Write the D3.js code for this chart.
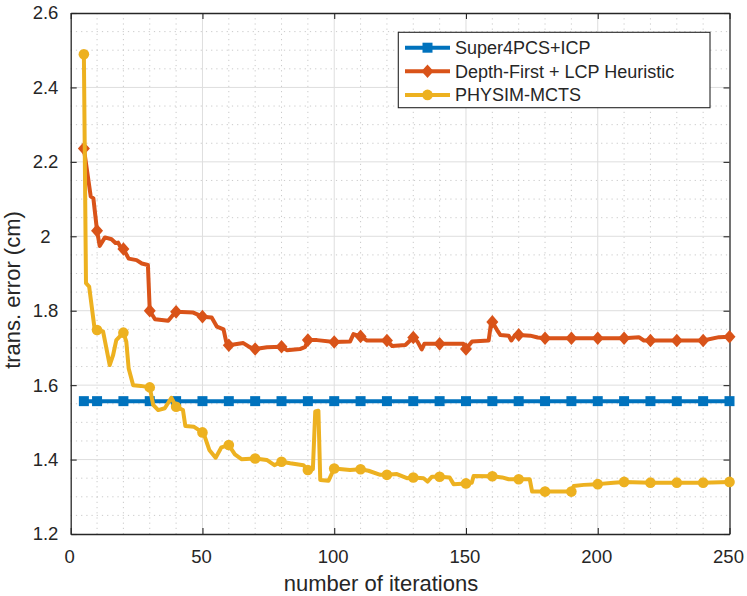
<!DOCTYPE html>
<html>
<head>
<meta charset="utf-8">
<script src="https://cdn.jsdelivr.net/npm/d3@7"></script>
<style>
    body { margin: 0; background: #fff; }
    text { font-family: "Liberation Sans", Arial, Helvetica, sans-serif; fill: #262626; }
</style>
</head>
<body>
<script>
// axis ticks
var xTicks = [0, 50, 100, 150, 200, 250]
var yTicks = [1.2, 1.4, 1.6, 1.8, 2.0, 2.2, 2.4, 2.6]
var yTickLabels = ["1.2", "1.4", "1.6", "1.8", "2", "2.2", "2.4", "2.6"]

var seriesNames = ["Super4PCS+ICP", "Depth-First + LCP Heuristic", "PHYSIM-MCTS"]
var seriesColors = ["#0072BD", "#D95319", "#EDB120"]

// iterations where a marker is drawn
var markerIters = [5, 10, 20, 30, 40, 50, 60, 70, 80, 90, 100, 110, 120, 130, 140, 150, 160, 170, 180, 190, 200, 210, 220, 230, 240, 250]

// Super4PCS+ICP
var superX = [5, 10, 20, 30, 40, 50, 60, 70, 80, 90, 100, 110, 120, 130, 140, 150, 160, 170, 180, 190, 200, 210, 220, 230, 240, 250]
var superY = [1.557, 1.557, 1.557, 1.557, 1.557, 1.557, 1.557, 1.557, 1.557, 1.557, 1.557, 1.557, 1.557, 1.557, 1.557, 1.557, 1.557, 1.557, 1.557, 1.557, 1.557, 1.557, 1.557, 1.557, 1.557, 1.557]

// Depth-First + LCP Heuristic
var depthX = [5, 7.6, 8.6, 10, 11, 13, 15.5, 17, 18, 19, 20, 22, 25, 27, 29.3, 30, 32, 37, 38.5, 40, 46.5, 50, 53.5, 55.5, 58, 59, 60, 65.5, 68, 70, 74.5, 80, 82, 87, 89, 90, 93.5, 100, 106, 107.3, 110, 112.4, 120, 122, 127, 130, 131.6, 133.2, 134.2, 140, 149, 150, 152.3, 158.6, 159.5, 160, 161.8, 163, 166.2, 167.2, 168.7, 170, 174.4, 177.2, 180, 190, 200, 210, 215.6, 217.5, 220, 230, 240, 246, 250]
var depthY = [2.236, 2.107, 2.102, 2.015, 1.974, 1.997, 1.992, 1.982, 1.983, 1.970, 1.966, 1.940, 1.936, 1.927, 1.923, 1.800, 1.777, 1.773, 1.786, 1.797, 1.795, 1.784, 1.782, 1.757, 1.750, 1.717, 1.707, 1.713, 1.702, 1.697, 1.702, 1.703, 1.694, 1.697, 1.703, 1.721, 1.721, 1.716, 1.717, 1.737, 1.731, 1.720, 1.720, 1.705, 1.708, 1.728, 1.717, 1.696, 1.711, 1.711, 1.711, 1.697, 1.717, 1.720, 1.766, 1.770, 1.748, 1.735, 1.733, 1.720, 1.735, 1.735, 1.733, 1.728, 1.726, 1.726, 1.726, 1.726, 1.729, 1.720, 1.720, 1.720, 1.720, 1.729, 1.730]

// PHYSIM-MCTS
var physX = [5, 5.8, 7, 9, 10, 12.3, 14.8, 16.1, 17.3, 20, 21.1, 22, 23.7, 26.6, 30, 31.3, 33.2, 35.7, 38.2, 40, 42.6, 43.5, 46.8, 50, 50.9, 52.6, 55, 57.2, 60, 62.3, 64.8, 70, 74.4, 77.3, 80, 83.3, 88.3, 90, 91.9, 92.8, 94, 94.7, 97.8, 100, 106, 110, 113, 117.5, 120, 123.8, 127.6, 130, 133.9, 135.4, 137.1, 140, 143.8, 145.3, 150, 152.2, 152.9, 160, 163.7, 166.2, 170, 174.2, 175.1, 180, 190, 190.9, 194.7, 200, 206, 210, 220, 230, 240, 250]
var physY = [2.489, 1.874, 1.865, 1.755, 1.748, 1.744, 1.654, 1.681, 1.721, 1.741, 1.717, 1.645, 1.600, 1.598, 1.594, 1.547, 1.533, 1.538, 1.566, 1.542, 1.533, 1.490, 1.488, 1.473, 1.461, 1.426, 1.405, 1.433, 1.439, 1.414, 1.401, 1.403, 1.399, 1.385, 1.394, 1.390, 1.385, 1.372, 1.374, 1.529, 1.531, 1.345, 1.343, 1.376, 1.372, 1.374, 1.370, 1.359, 1.359, 1.361, 1.350, 1.352, 1.350, 1.341, 1.354, 1.354, 1.352, 1.334, 1.336, 1.338, 1.356, 1.355, 1.352, 1.347, 1.347, 1.347, 1.314, 1.314, 1.314, 1.329, 1.332, 1.334, 1.338, 1.340, 1.338, 1.338, 1.338, 1.340]

var width = 747
var height = 596

// plot box in pixels (window.top is reserved, so use own names)
var plotLeft = 70.7, plotRight = 729.5, plotTop = 13, plotBottom = 534
var axisColor = "#262626"

var xScale = d3.scaleLinear().domain([0, 250]).range([plotLeft, plotRight])
var yScale = d3.scaleLinear().domain([1.2, 2.6]).range([plotBottom, plotTop])

var svg = d3.select("body")
    .append("svg")
    .attr("width", width)
    .attr("height", height)

//minor grid (dotted)
var xMinor = d3.range(10, 250, 10).filter(d => d % 50 != 0)
var yMinor = d3.range(1.25, 2.6, 0.05).filter(d => Math.abs(Math.round(d * 5) - d * 5) > 0.01)

svg.append("g").selectAll("line")
    .data(xMinor)
    .enter()
    .append("line")
    .attr("x1", d => xScale(d)).attr("x2", d => xScale(d))
    .attr("y1", plotTop).attr("y2", plotBottom)
    .attr("stroke", "#bdbdbd")
    .attr("stroke-width", 0.8)
    .attr("stroke-dasharray", "1.2,4")

svg.append("g").selectAll("line")
    .data(yMinor)
    .enter()
    .append("line")
    .attr("x1", plotLeft).attr("x2", plotRight)
    .attr("y1", d => yScale(d)).attr("y2", d => yScale(d))
    .attr("stroke", "#bdbdbd")
    .attr("stroke-width", 0.8)
    .attr("stroke-dasharray", "1.2,4")

//major grid
svg.append("g").selectAll("line")
    .data(xTicks.slice(1, -1))
    .enter()
    .append("line")
    .attr("x1", d => xScale(d)).attr("x2", d => xScale(d))
    .attr("y1", plotTop).attr("y2", plotBottom)
    .attr("stroke", "#dedede")
    .attr("stroke-width", 1)

svg.append("g").selectAll("line")
    .data(yTicks.slice(1, -1))
    .enter()
    .append("line")
    .attr("x1", plotLeft).attr("x2", plotRight)
    .attr("y1", d => yScale(d)).attr("y2", d => yScale(d))
    .attr("stroke", "#dedede")
    .attr("stroke-width", 1)

//axes with inward ticks on all four sides
var xAxis = d3.axisBottom(xScale).tickValues(xTicks).tickSizeInner(-6).tickSizeOuter(0).tickPadding(15.6)
var xAxisTop = d3.axisTop(xScale).tickValues(xTicks).tickSizeInner(-6).tickSizeOuter(0).tickFormat("")
var yAxis = d3.axisLeft(yScale).tickValues(yTicks).tickSizeInner(-6).tickSizeOuter(0)
    .tickFormat((d, i) => yTickLabels[i])
var yAxisRight = d3.axisRight(yScale).tickValues(yTicks).tickSizeInner(-6).tickSizeOuter(0).tickFormat("")

var gx = svg.append("g").attr("id", "x-axis").attr("transform", "translate(0," + plotBottom + ")").call(xAxis)
var gxt = svg.append("g").attr("transform", "translate(0," + plotTop + ")").call(xAxisTop)
var gy = svg.append("g").attr("id", "y-axis").attr("transform", "translate(" + plotLeft + ",0)").call(yAxis)
var gyr = svg.append("g").attr("transform", "translate(" + plotRight + ",0)").call(yAxisRight)

;[gx, gxt, gy, gyr].forEach(function (g) {
    g.select(".domain").attr("stroke", axisColor).attr("stroke-width", 1.3)
    g.selectAll(".tick line").attr("stroke", axisColor).attr("stroke-width", 1.1)
    g.selectAll(".tick text").attr("fill", axisColor).style("font-size", "18.5px")
        .style("font-family", "'Liberation Sans', Arial, Helvetica, sans-serif")
})
gx.selectAll(".tick text").attr("dx", "-1.5")
gy.selectAll(".tick text").attr("text-anchor", "middle").attr("x", -25.2)

//data lines
var line = d3.line()
    .x(d => xScale(d[0]))
    .y(d => yScale(d[1]))

var allSeries = [
    d3.zip(superX, superY),
    d3.zip(depthX, depthY),
    d3.zip(physX, physY)
]

function markerPath(kind) {
    if (kind == 0) return "M-5,-5L5,-5L5,5L-5,5Z"
    if (kind == 1) return "M0,-6.8L6,0L0,6.8L-6,0Z"
    return d3.symbol(d3.symbolCircle, Math.PI * 5.3 * 5.3)()
}

allSeries.forEach(function (pts, k) {
    svg.append("path")
        .datum(pts)
        .attr("d", line)
        .attr("fill", "none")
        .attr("stroke", seriesColors[k])
        .attr("stroke-width", 4)
        .attr("stroke-linejoin", "round")

    svg.append("g").selectAll("path")
        .data(pts.filter(p => markerIters.indexOf(p[0]) >= 0))
        .enter()
        .append("path")
        .attr("d", markerPath(k))
        .attr("transform", d => "translate(" + xScale(d[0]) + "," + yScale(d[1]) + ")")
        .attr("fill", seriesColors[k])
})

//axis labels
svg.append("text")
    .attr("x", 381)
    .attr("y", 590.5)
    .attr("text-anchor", "middle")
    .style("font-size", "22px")
    .text("number of iterations")

svg.append("text")
    .attr("transform", "translate(19.5,290) rotate(-90)")
    .attr("text-anchor", "middle")
    .style("font-size", "22px")
    .text("trans. error (cm)")

//legend
var legend = svg.append("g")
legend.append("rect")
    .attr("x", 398.3).attr("y", 32.3)
    .attr("width", 311.7).attr("height", 75.4)
    .attr("fill", "#fff")
    .attr("stroke", axisColor)
    .attr("stroke-width", 1.1)

seriesNames.forEach(function (name, k) {
    var cy = 47.7 + k * 23.6
    legend.append("line")
        .attr("x1", 405).attr("x2", 450)
        .attr("y1", cy).attr("y2", cy)
        .attr("stroke", seriesColors[k])
        .attr("stroke-width", 4)
    legend.append("path")
        .attr("d", markerPath(k))
        .attr("transform", "translate(427.5," + cy + ")")
        .attr("fill", seriesColors[k])
    legend.append("text")
        .attr("x", 455)
        .attr("y", cy)
        .attr("dy", "0.35em")
        .style("font-size", "18px")
        .text(name)
})
</script>
</body>
</html>
